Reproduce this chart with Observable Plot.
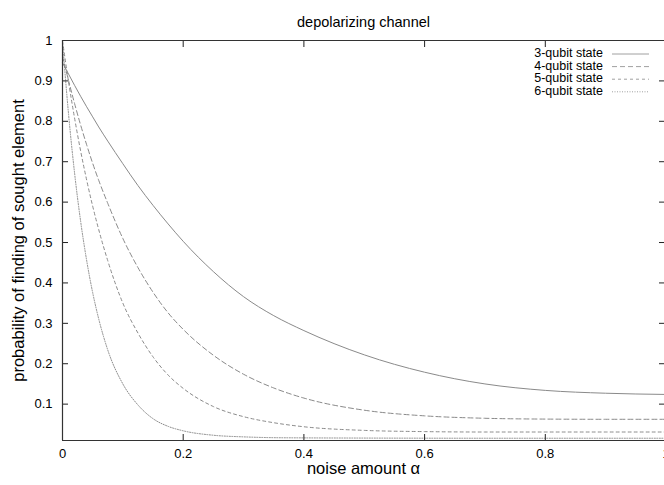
<!DOCTYPE html>
<html><head><meta charset="utf-8">
<script src="https://cdn.jsdelivr.net/npm/d3@7"></script>
<script src="https://cdn.jsdelivr.net/npm/@observablehq/plot@0.6"></script>
<style>
body{margin:0;background:#fff;}
#wrap{position:relative;width:664px;height:485px;font-family:"Liberation Sans",Arial,Helvetica,sans-serif;overflow:hidden;}
</style></head><body><div id="wrap"></div>
<script>
const alpha  = [0, 0.01, 0.02, 0.03, 0.04, 0.05, 0.06, 0.075, 0.1, 0.125, 0.15, 0.175, 0.2, 0.25, 0.3, 0.35, 0.4, 0.5, 0.6, 0.7, 0.8, 0.9, 1.0];
const qubit3 = [0.945, 0.917, 0.889, 0.862, 0.836, 0.811, 0.786, 0.751, 0.695, 0.641, 0.592, 0.546, 0.503, 0.428, 0.366, 0.319, 0.282, 0.222, 0.179, 0.150, 0.134, 0.127, 0.124];
const qubit4 = [0.961, 0.901, 0.844, 0.791, 0.742, 0.696, 0.654, 0.597, 0.510, 0.438, 0.377, 0.326, 0.285, 0.221, 0.174, 0.140, 0.115, 0.085, 0.071, 0.065, 0.063, 0.0625, 0.0625];
const qubit5 = [0.999, 0.898, 0.808, 0.727, 0.655, 0.590, 0.532, 0.455, 0.350, 0.276, 0.217, 0.172, 0.139, 0.094, 0.069, 0.054, 0.044, 0.035, 0.032, 0.031, 0.031, 0.031, 0.031];
const qubit6 = [0.997, 0.818, 0.672, 0.553, 0.456, 0.376, 0.311, 0.234, 0.150, 0.098, 0.064, 0.045, 0.034, 0.023, 0.019, 0.017, 0.0165, 0.016, 0.0157, 0.0156, 0.0156, 0.0156, 0.0156];
const seriesNames = ["3-qubit state", "4-qubit state", "5-qubit state", "6-qubit state"];
const seriesValues = [qubit3, qubit4, qubit5, qubit6];
const dashes = ["none", "5,3", "3,3", "1,1.5"];
const xTicks = [0, 0.2, 0.4, 0.6, 0.8, 1];
const yTicks = [0.1, 0.2, 0.3, 0.4, 0.5, 0.6, 0.7, 0.8, 0.9, 1];
const yTickLabels = ["0.1","0.2","0.3","0.4","0.5","0.6","0.7","0.8","0.9","1"];
const xTickLabels = ["0","0.2","0.4","0.6","0.8","1"];

const lineColor = "#8a8a8a";
const font = "Liberation Sans, Arial, Helvetica, sans-serif";

const lineMarks = seriesNames.map((name, i) => {
  const rows = alpha.map((a, j) => ({alpha: a, p: seriesValues[i][j]}));
  return Plot.line(rows, {x: "alpha", y: "p", stroke: lineColor, strokeWidth: 1, strokeDasharray: dashes[i], curve: "monotone-x"});
});

const chart = Plot.plot({
  width: 664, height: 485,
  marginLeft: 62, marginRight: 0, marginTop: 40, marginBottom: 45,
  style: {fontFamily: font, background: "#fff", overflow: "hidden"},
  x: {domain: [0, 1], range: [62, 665.5]},
  y: {domain: [0.01, 1], range: [440, 40]},
  marks: [
    ...lineMarks,
    Plot.axisY(yTicks, {anchor: "left", tickSize: -6, text: null, stroke: "#222", strokeWidth: 1}),
    Plot.axisY(yTicks, {anchor: "right", tickSize: -6, text: null, stroke: "#222", strokeWidth: 1}),
    Plot.axisX(xTicks, {anchor: "bottom", tickSize: -6, text: null, stroke: "#222", strokeWidth: 1}),
    Plot.axisX(xTicks, {anchor: "top", tickSize: -6, text: null, stroke: "#222", strokeWidth: 1}),
    Plot.axisY(yTicks, {anchor: "left", tickSize: 0, tickPadding: 10, tickFormat: (d, i) => yTickLabels[i], fontSize: 13, fill: "#000"}),
    Plot.axisX(xTicks, {anchor: "bottom", tickSize: 0, tickPadding: 8, tickFormat: (d, i) => xTickLabels[i], fontSize: 13, fill: "#000"}),
    Plot.ruleX([0], {stroke: "#333", strokeWidth: 1.2}),
    Plot.ruleY([0.01], {stroke: "#333", strokeWidth: 1.2}),
    Plot.ruleY([1], {stroke: "#333", strokeWidth: 1.2}),
    Plot.text(["depolarizing channel"], {frameAnchor: "top", dy: -24, fontSize: 14.5, fill: "#000"}),
    Plot.text(["noise amount α"], {frameAnchor: "bottom", dy: 33, fontSize: 16.5, fill: "#000"}),
    Plot.text(["probability of finding of sought element"], {frameAnchor: "left", textAnchor: "middle", dx: -44, rotate: -90, fontSize: 16.5, fill: "#000"})
  ]
});
chart.querySelectorAll("[aria-label='y-axis label'],[aria-label='x-axis label']").forEach(n => n.remove());

const wrap = document.getElementById("wrap");
wrap.appendChild(chart);

// legend overlay
const ns = "http://www.w3.org/2000/svg";
const leg = document.createElementNS(ns, "svg");
leg.setAttribute("width", 664);
leg.setAttribute("height", 120);
leg.style.position = "absolute";
leg.style.left = "0px"; leg.style.top = "0px";
seriesNames.forEach((name, i) => {
  const y = 54 + i * 12.6;
  const t = document.createElementNS(ns, "text");
  t.setAttribute("x", 603); t.setAttribute("y", y);
  t.setAttribute("text-anchor", "end"); t.setAttribute("dominant-baseline", "middle");
  t.setAttribute("font-size", 12.5); t.setAttribute("font-family", font);
  t.textContent = name;
  leg.appendChild(t);
  const l = document.createElementNS(ns, "line");
  l.setAttribute("x1", 612); l.setAttribute("x2", 649);
  l.setAttribute("y1", y); l.setAttribute("y2", y);
  l.setAttribute("stroke", "#a0a0a0"); l.setAttribute("stroke-width", 1);
  if (dashes[i] !== "none") l.setAttribute("stroke-dasharray", dashes[i]);
  leg.appendChild(l);
});
wrap.appendChild(leg);
</script>
</body></html>
